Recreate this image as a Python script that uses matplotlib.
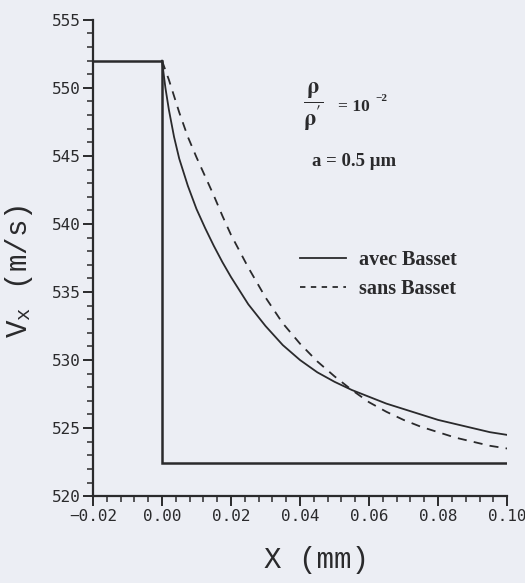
import matplotlib
matplotlib.use("Agg")
import matplotlib.pyplot as plt
from matplotlib.ticker import MultipleLocator, FixedLocator
from matplotlib.lines import Line2D

# ---- data ----
x_curve = [0.0, 0.001, 0.002, 0.0035, 0.005, 0.0075, 0.01, 0.0125, 0.015, 0.0175, 0.02,
           0.025, 0.03, 0.035, 0.04, 0.045, 0.05, 0.055, 0.06, 0.065, 0.07, 0.075,
           0.08, 0.085, 0.09, 0.095, 0.10]
v_avec = [552.0, 550.0, 548.4, 546.4, 544.8, 542.8, 541.1, 539.7, 538.4, 537.2, 536.1,
          534.1, 532.5, 531.1, 530.0, 529.1, 528.4, 527.8, 527.3, 526.8, 526.4, 526.0,
          525.6, 525.3, 525.0, 524.7, 524.5]
v_sans = [552.0, 551.3, 550.6, 549.4, 548.2, 546.4, 544.9, 543.5, 542.1, 540.6, 539.2,
          536.8, 534.6, 532.7, 531.2, 529.9, 528.8, 527.8, 526.9, 526.2, 525.6, 525.1,
          524.7, 524.3, 524.0, 523.7, 523.5]

x_step = [-0.02, 0.0, 0.0, 0.10]
v_step = [552.0, 552.0, 522.4, 522.4]

x_ticks = [-0.02, 0.00, 0.02, 0.04, 0.06, 0.08, 0.10]
x_ticklabels = ["\u22120.02", "0.00", "0.02", "0.04", "0.06", "0.08", "0.10"]
y_ticks = [520, 525, 530, 535, 540, 545, 550, 555]
y_ticklabels = ["520", "525", "530", "535", "540", "545", "550", "555"]

legend_labels = ["avec Basset", "sans Basset"]

# ---- style ----
bg = "#eceef4"
ink = "#2a2a2c"
plt.rcParams["mathtext.fontset"] = "stix"

fig = plt.figure(figsize=(5.25, 5.83), dpi=100, facecolor=bg)
ax = fig.add_axes([0.177, 0.149, 0.789, 0.817])
ax.set_facecolor(bg)

ax.plot(x_step, v_step, color=ink, lw=1.8, solid_joinstyle="miter")
ax.plot(x_curve, v_avec, color=ink, lw=1.3)
ax.plot(x_curve, v_sans, color=ink, lw=1.3, ls=(0, (5, 4)))

ax.set_xlim(-0.02, 0.10)
ax.set_ylim(520, 555)

for s in ["top", "right"]:
    ax.spines[s].set_visible(False)
for s in ["left", "bottom"]:
    ax.spines[s].set_linewidth(1.6)
    ax.spines[s].set_color(ink)

ax.xaxis.set_major_locator(FixedLocator(x_ticks))
ax.set_xticklabels(x_ticklabels)
ax.yaxis.set_major_locator(FixedLocator(y_ticks))
ax.set_yticklabels(y_ticklabels)
ax.xaxis.set_minor_locator(MultipleLocator(0.004))
ax.yaxis.set_minor_locator(MultipleLocator(1))
ax.tick_params(which="major", direction="out", length=7, width=1.4, color=ink,
               labelsize=11.5, labelcolor=ink, pad=2)
ax.tick_params(which="minor", direction="out", length=4, width=1.1, color=ink)
for lab in ax.get_xticklabels() + ax.get_yticklabels():
    lab.set_family("DejaVu Sans Mono")

ax.set_xlabel("X (mm)", family="Liberation Mono", fontsize=21, color=ink)
ax.xaxis.set_label_coords(0.54, -0.105)
ax.set_ylabel(r"V$_{\mathregular{x}}$ (m/s)", family="Liberation Mono", fontsize=21,
              color=ink)
ax.yaxis.set_label_coords(-0.14, 0.473)

# annotations
ax.text(0.508, 0.817, r"$\mathbf{\dfrac{\rho}{\rho^{\prime}}}$", transform=ax.transAxes,
        fontsize=16, color=ink, ha="left", va="center")
ax.text(0.592, 0.817, "= 10", transform=ax.transAxes, family="Liberation Serif",
        fontweight="bold", fontsize=12.5, color=ink, ha="left", va="center")
ax.text(0.682, 0.835, "\u22122", transform=ax.transAxes, family="Liberation Serif",
        fontweight="bold", fontsize=8, color=ink, ha="left", va="center")
ax.text(0.53, 0.702, "a = 0.5 \u03bcm", transform=ax.transAxes, family="Liberation Serif",
        fontweight="bold", fontsize=13.5, color=ink, ha="left", va="center")

handles = [Line2D([], [], color=ink, lw=1.3),
           Line2D([], [], color=ink, lw=1.3, ls=(0, (3, 3)))]
leg = ax.legend(handles, legend_labels, loc="upper left", bbox_to_anchor=(0.456, 0.555),
                frameon=False, handlelength=2.3, handletextpad=0.65, labelspacing=0.45,
                prop={"family": "Liberation Serif", "weight": "bold", "size": 14.5})
for t in leg.get_texts():
    t.set_color(ink)

fig.savefig("out.png", dpi=100, facecolor=bg)
